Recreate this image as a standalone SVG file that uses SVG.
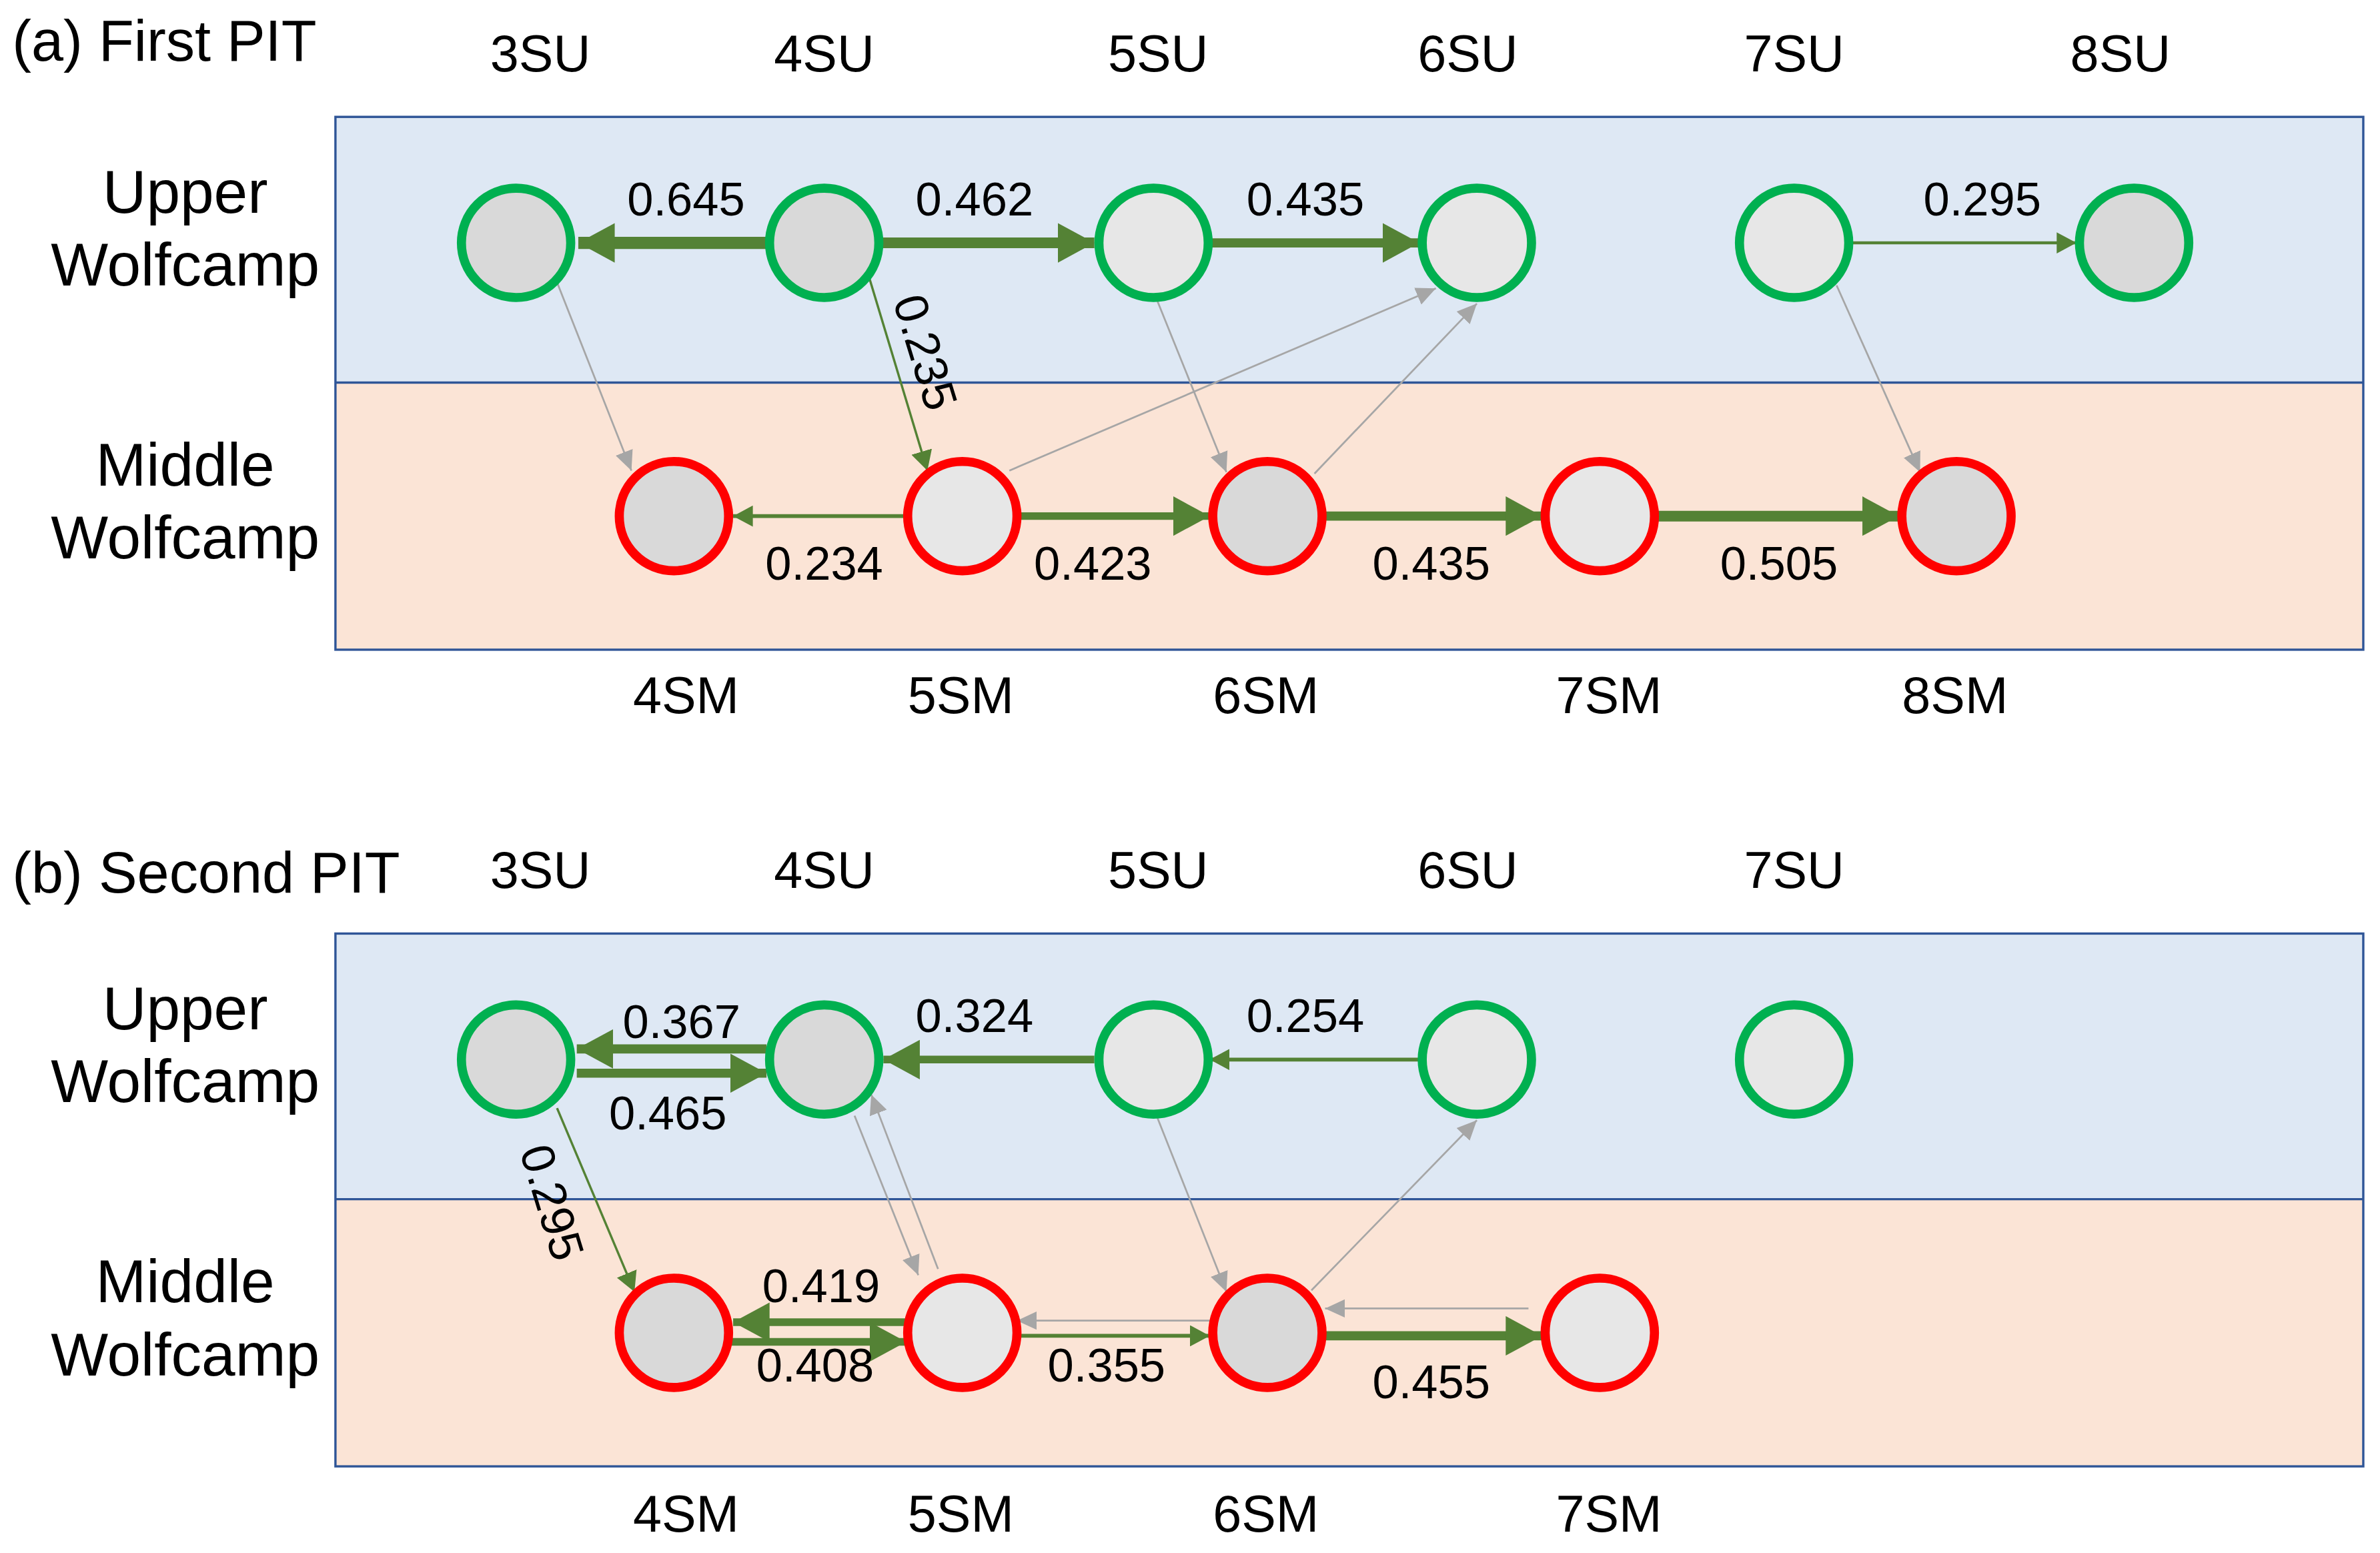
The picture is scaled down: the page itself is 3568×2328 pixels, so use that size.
<svg xmlns="http://www.w3.org/2000/svg" width="3568" height="2328" viewBox="0 0 3568 2328">
<style>
text{font-family:"Liberation Sans",Arial,sans-serif;fill:#000}
.t{font-size:38px}.c{font-size:34px;text-anchor:middle}.r{font-size:40px;text-anchor:middle}.v{font-size:31px;text-anchor:middle}
.u{stroke:#00b050;stroke-width:6}.m{stroke:#ff0000;stroke-width:6}
.d{fill:#d9d9d9}.l{fill:#e7e7e7}
.g{stroke:#548235;fill:none}.y{stroke:#a6a6a6;stroke-width:1.2;fill:none}
</style>
<defs>
<marker id="GL" markerUnits="userSpaceOnUse" markerWidth="26" markerHeight="26" refX="24" refY="13" orient="auto"><path d="M0,0 L24,13 L0,26 Z" fill="#548235"/></marker>
<marker id="GS" markerUnits="userSpaceOnUse" markerWidth="14" markerHeight="14" refX="13" refY="7" orient="auto"><path d="M0,0 L13,7 L0,14 Z" fill="#548235"/></marker>
<marker id="Y" markerUnits="userSpaceOnUse" markerWidth="14" markerHeight="14" refX="13" refY="7" orient="auto"><path d="M0,1 L13,7 L0,13 Z" fill="#a6a6a6"/></marker>
</defs>
<rect width="3568" height="2328" fill="#fff"/>
<g transform="scale(2.2755)">
<g id="panels">
<rect x="221" y="77" width="1336" height="175" fill="#dee8f4"/>
<rect x="221" y="252" width="1336" height="176" fill="#fbe4d6"/>
<rect x="221" y="77" width="1336" height="351" fill="none" stroke="#2f5597" stroke-width="1.5"/>
<line x1="221" y1="252" x2="1557" y2="252" stroke="#2f5597" stroke-width="1.5"/>
<rect x="221" y="615" width="1336" height="175" fill="#dee8f4"/>
<rect x="221" y="790" width="1336" height="176" fill="#fbe4d6"/>
<rect x="221" y="615" width="1336" height="351" fill="none" stroke="#2f5597" stroke-width="1.5"/>
<line x1="221" y1="790" x2="1557" y2="790" stroke="#2f5597" stroke-width="1.5"/>
</g>
<g id="labels">
<text class="t" x="8" y="40">(a) First PIT</text>
<text class="t" x="8" y="588">(b) Second PIT</text>
<text class="c" x="356" y="47">3SU</text><text class="c" x="543" y="47">4SU</text><text class="c" x="763" y="47">5SU</text><text class="c" x="967" y="47">6SU</text><text class="c" x="1182" y="47">7SU</text><text class="c" x="1397" y="47">8SU</text>
<text class="c" x="452" y="470">4SM</text><text class="c" x="633" y="470">5SM</text><text class="c" x="834" y="470">6SM</text><text class="c" x="1060" y="470">7SM</text><text class="c" x="1288" y="470">8SM</text>
<text class="c" x="356" y="585">3SU</text><text class="c" x="543" y="585">4SU</text><text class="c" x="763" y="585">5SU</text><text class="c" x="967" y="585">6SU</text><text class="c" x="1182" y="585">7SU</text>
<text class="c" x="452" y="1009">4SM</text><text class="c" x="633" y="1009">5SM</text><text class="c" x="834" y="1009">6SM</text><text class="c" x="1060" y="1009">7SM</text>
<text class="r" x="122" y="140">Upper</text><text class="r" x="122" y="188">Wolfcamp</text>
<text class="r" x="122" y="320">Middle</text><text class="r" x="122" y="368">Wolfcamp</text>
<text class="r" x="122" y="678">Upper</text><text class="r" x="122" y="726">Wolfcamp</text>
<text class="r" x="122" y="858">Middle</text><text class="r" x="122" y="906">Wolfcamp</text>
</g>
<g id="connectors">
<line class="y" x1="367" y1="186" x2="416" y2="310" marker-end="url(#Y)"/>
<line class="y" x1="665" y1="310" x2="946" y2="190" marker-end="url(#Y)"/>
<line class="y" x1="762" y1="197" x2="808" y2="311" marker-end="url(#Y)"/>
<line class="y" x1="866" y1="312" x2="973" y2="200" marker-end="url(#Y)"/>
<line class="y" x1="1210" y1="188" x2="1265" y2="311" marker-end="url(#Y)"/>
<line class="g" stroke-width="8" x1="505" y1="160" x2="381" y2="160" marker-end="url(#GL)"/>
<line class="g" stroke-width="7" x1="581" y1="160" x2="721" y2="160" marker-end="url(#GL)"/>
<line class="g" stroke-width="6" x1="798" y1="160" x2="935" y2="160" marker-end="url(#GL)"/>
<line class="g" stroke-width="2" x1="1220" y1="160" x2="1368" y2="160" marker-end="url(#GS)"/>
<line class="g" stroke-width="1.5" x1="573" y1="184" x2="611" y2="310" marker-end="url(#GS)"/>
<line class="g" stroke-width="2.5" x1="597" y1="340" x2="483" y2="340" marker-end="url(#GS)"/>
<line class="g" stroke-width="5" x1="672" y1="340" x2="797" y2="340" marker-end="url(#GL)"/>
<line class="g" stroke-width="6" x1="873" y1="340" x2="1016" y2="340" marker-end="url(#GL)"/>
<line class="g" stroke-width="7" x1="1092" y1="340" x2="1251" y2="340" marker-end="url(#GL)"/>

<line class="y" x1="563" y1="735" x2="605" y2="840" marker-end="url(#Y)"/>
<line class="y" x1="618" y1="836" x2="574" y2="721" marker-end="url(#Y)"/>
<line class="y" x1="762" y1="735" x2="808" y2="851" marker-end="url(#Y)"/>
<line class="y" x1="864" y1="850" x2="973" y2="738" marker-end="url(#Y)"/>
<line class="y" x1="797" y1="870" x2="670" y2="870" marker-end="url(#Y)"/>
<line class="y" stroke-width="2" x1="1007" y1="862" x2="873" y2="862" marker-end="url(#Y)"/>
<line class="g" stroke-width="6" x1="505" y1="691" x2="380" y2="691" marker-end="url(#GL)"/>
<line class="g" stroke-width="6" x1="380" y1="707" x2="505" y2="707" marker-end="url(#GL)"/>
<line class="g" stroke-width="5" x1="721" y1="698" x2="582" y2="698" marker-end="url(#GL)"/>
<line class="g" stroke-width="2.5" x1="935" y1="698" x2="797" y2="698" marker-end="url(#GS)"/>
<line class="g" stroke-width="1.5" x1="367" y1="730" x2="418" y2="851" marker-end="url(#GS)"/>
<line class="g" stroke-width="5" x1="597" y1="871" x2="483" y2="871" marker-end="url(#GL)"/>
<line class="g" stroke-width="5" x1="482" y1="884" x2="597" y2="884" marker-end="url(#GL)"/>
<line class="g" stroke-width="2.5" x1="672" y1="880" x2="797" y2="880" marker-end="url(#GS)"/>
<line class="g" stroke-width="6" x1="873" y1="880" x2="1016" y2="880" marker-end="url(#GL)"/>
</g>
<g id="weights">
<text class="v" x="452" y="142">0.645</text><text class="v" x="642" y="142">0.462</text><text class="v" x="860" y="142">0.435</text><text class="v" x="1306" y="142">0.295</text>
<text class="v" x="543" y="382">0.234</text><text class="v" x="720" y="382">0.423</text><text class="v" x="943" y="382">0.435</text><text class="v" x="1172" y="382">0.505</text>
<text class="v" transform="translate(610,232) rotate(73)" y="11">0.235</text>
<text class="v" x="449" y="684">0.367</text><text class="v" x="440" y="744">0.465</text><text class="v" x="642" y="680">0.324</text><text class="v" x="860" y="680">0.254</text>
<text class="v" x="541" y="858">0.419</text><text class="v" x="537" y="910">0.408</text><text class="v" x="729" y="910">0.355</text><text class="v" x="943" y="921">0.455</text>
<text class="v" transform="translate(364,792) rotate(73)" y="11">0.295</text>
</g>
<g id="n3SU_a"><circle class="u d" cx="340" cy="160" r="36"/></g>
<g id="n4SU_a"><circle class="u d" cx="543" cy="160" r="36"/></g>
<g id="n5SU_a"><circle class="u l" cx="760" cy="160" r="36"/></g>
<g id="n6SU_a"><circle class="u l" cx="973" cy="160" r="36"/></g>
<g id="n7SU_a"><circle class="u l" cx="1182" cy="160" r="36"/></g>
<g id="n8SU_a"><circle class="u d" cx="1406" cy="160" r="36"/></g>
<g id="n4SM_a"><circle class="m d" cx="444" cy="340" r="36"/></g>
<g id="n5SM_a"><circle class="m l" cx="634" cy="340" r="36"/></g>
<g id="n6SM_a"><circle class="m d" cx="835" cy="340" r="36"/></g>
<g id="n7SM_a"><circle class="m l" cx="1054" cy="340" r="36"/></g>
<g id="n8SM_a"><circle class="m d" cx="1289" cy="340" r="36"/></g>
<g id="n3SU_b"><circle class="u d" cx="340" cy="698" r="36"/></g>
<g id="n4SU_b"><circle class="u d" cx="543" cy="698" r="36"/></g>
<g id="n5SU_b"><circle class="u l" cx="760" cy="698" r="36"/></g>
<g id="n6SU_b"><circle class="u l" cx="973" cy="698" r="36"/></g>
<g id="n7SU_b"><circle class="u l" cx="1182" cy="698" r="36"/></g>
<g id="n4SM_b"><circle class="m d" cx="444" cy="878" r="36"/></g>
<g id="n5SM_b"><circle class="m l" cx="634" cy="878" r="36"/></g>
<g id="n6SM_b"><circle class="m d" cx="835" cy="878" r="36"/></g>
<g id="n7SM_b"><circle class="m l" cx="1054" cy="878" r="36"/></g>
</g>
</svg>
